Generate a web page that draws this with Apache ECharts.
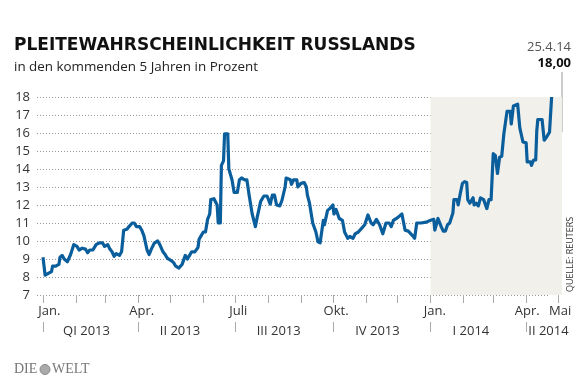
<!DOCTYPE html>
<html><head><meta charset="utf-8">
<script src="https://cdn.jsdelivr.net/npm/echarts@6/dist/echarts.min.js"></script>
<style>html,body{margin:0;padding:0;background:#fff}#c{width:580px;height:386px}</style>
</head><body><div id="c"></div>
<script>
var dates = ['2013-01-01','2013-01-03','2013-01-06','2013-01-09','2013-01-10','2013-01-13','2013-01-16','2013-01-17','2013-01-19','2013-01-21','2013-01-24','2013-01-27','2013-01-30','2013-02-02','2013-02-04','2013-02-07','2013-02-10','2013-02-12','2013-02-14','2013-02-17','2013-02-20','2013-02-23','2013-02-26','2013-02-28','2013-03-03','2013-03-05','2013-03-07','2013-03-09','2013-03-11','2013-03-14','2013-03-16','2013-03-18','2013-03-21','2013-03-23','2013-03-26','2013-03-28','2013-03-30','2013-04-02','2013-04-04','2013-04-06','2013-04-09','2013-04-11','2013-04-13','2013-04-16','2013-04-19','2013-04-21','2013-04-24','2013-04-26','2013-04-28','2013-05-02','2013-05-04','2013-05-06','2013-05-09','2013-05-12','2013-05-15','2013-05-17','2013-05-19','2013-05-21','2013-05-24','2013-05-27','2013-05-28','2013-05-30','2013-06-01','2013-06-03','2013-06-05','2013-06-07','2013-06-08','2013-06-11','2013-06-14','2013-06-15','2013-06-17','2013-06-18','2013-06-20','2013-06-21','2013-06-24','2013-06-25','2013-06-28','2013-06-30','2013-07-03','2013-07-05','2013-07-07','2013-07-10','2013-07-12','2013-07-14','2013-07-17','2013-07-20','2013-07-22','2013-07-25','2013-07-28','2013-07-31','2013-08-03','2013-08-05','2013-08-07','2013-08-09','2013-08-12','2013-08-14','2013-08-17','2013-08-18','2013-08-22','2013-08-23','2013-08-25','2013-08-28','2013-08-29','2013-09-01','2013-09-04','2013-09-06','2013-09-07','2013-09-09','2013-09-12','2013-09-15','2013-09-17','2013-09-19','2013-09-22','2013-09-23','2013-09-26','2013-09-28','2013-10-01','2013-10-02','2013-10-04','2013-10-07','2013-10-10','2013-10-12','2013-10-15','2013-10-17','2013-10-20','2013-10-22','2013-10-25','2013-10-28','2013-10-31','2013-11-03','2013-11-06','2013-11-08','2013-11-11','2013-11-14','2013-11-17','2013-11-20','2013-11-23','2013-11-25','2013-11-27','2013-12-01','2013-12-05','2013-12-08','2013-12-11','2013-12-15','2013-12-17','2013-12-19','2013-12-23','2013-12-28','2014-01-01','2014-01-04','2014-01-05','2014-01-08','2014-01-11','2014-01-13','2014-01-15','2014-01-17','2014-01-19','2014-01-22','2014-01-23','2014-01-26','2014-01-27','2014-01-29','2014-01-31','2014-02-02','2014-02-04','2014-02-05','2014-02-07','2014-02-10','2014-02-11','2014-02-13','2014-02-15','2014-02-17','2014-02-20','2014-02-21','2014-02-23','2014-02-25','2014-02-27','2014-03-01','2014-03-03','2014-03-05','2014-03-07','2014-03-09','2014-03-11','2014-03-14','2014-03-17','2014-03-18','2014-03-20','2014-03-24','2014-03-26','2014-03-29','2014-04-01','2014-04-02','2014-04-05','2014-04-06','2014-04-08','2014-04-10','2014-04-11','2014-04-12','2014-04-16','2014-04-18','2014-04-20','2014-04-23','2014-04-25'];
var values = [9.1,8.1,8.2,8.3,8.6,8.6,8.7,9.1,9.2,9.0,8.85,9.25,9.8,9.7,9.5,9.6,9.55,9.35,9.5,9.5,9.8,9.9,9.9,9.7,9.8,9.55,9.4,9.15,9.3,9.2,9.4,10.6,10.65,10.8,11.0,11.0,10.8,10.8,10.6,10.3,9.5,9.25,9.55,9.9,10.0,9.8,9.4,9.25,9.05,8.9,8.8,8.6,8.5,8.7,9.2,9.0,9.2,9.4,9.4,9.65,10.1,10.3,10.5,10.5,11.2,11.5,12.3,12.35,12.0,11.0,11.0,14.2,14.45,15.95,15.95,14.0,13.4,12.7,12.7,13.4,13.5,13.4,13.4,12.6,11.5,10.8,11.4,12.2,12.5,12.5,12.05,12.55,12.55,12.0,11.95,12.25,13.0,13.5,13.4,13.15,13.4,13.4,13.0,13.2,13.25,13.0,12.55,12.1,11.0,10.5,9.95,9.9,11.15,10.9,11.7,11.8,12.0,11.5,11.75,11.25,11.15,10.5,10.15,10.25,10.15,10.4,10.5,10.7,10.9,11.45,11.0,10.9,11.2,10.9,10.4,11.0,11.0,10.8,11.15,11.3,11.5,10.6,10.55,10.3,10.15,11.0,11.0,11.05,11.15,11.2,10.6,11.25,10.8,10.55,10.55,10.9,11.0,11.55,12.3,12.3,12.0,12.65,13.2,13.3,13.25,12.3,12.1,12.4,12.0,12.1,11.95,12.4,12.3,12.3,11.8,12.3,12.3,14.85,14.75,13.75,14.65,14.7,15.95,17.2,17.2,16.5,17.5,17.6,16.3,15.5,15.45,14.4,14.4,14.2,14.5,14.5,16.1,16.75,16.75,15.6,15.75,16.05,18.0];
var monthTickDates = ['2013-01-01','2013-02-01','2013-03-01','2013-04-01','2013-05-01','2013-06-01','2013-07-01','2013-08-01','2013-09-01','2013-10-01','2013-11-01','2013-12-01','2014-01-01','2014-02-01','2014-03-01','2014-04-01','2014-05-01'];
var monthLabelDates = ['2013-01-07','2013-04-04','2013-07-04','2013-10-04','2014-01-05','2014-04-02','2014-05-03'];
var monthLabelTexts = ['Jan.','Apr.','Juli','Okt.','Jan.','Apr.','Mai'];
var quarterTickDates = ['2013-01-01','2013-04-01','2013-07-01','2013-10-01','2014-01-01','2014-04-01'];
var quarterLabelDates = ['2013-02-11','2013-05-10','2013-08-11','2013-11-12','2014-02-08','2014-04-22'];
var quarterLabelTexts = ['QI 2013','II 2013','III 2013','IV 2013','I 2014','II 2014'];
var yTicks = [7,8,9,10,11,12,13,14,15,16,17,18];
var shadeStart = '2014-01-01';
var titleText = 'PLEITEWAHRSCHEINLICHKEIT RUSSLANDS';
var subtitleText = 'in den kommenden 5 Jahren in Prozent';
var lastDateText = '25.4.14';
var lastValueText = '18,00';

var DAY = 864e5;
function ts(s){ var p = s.split('-'); return Date.UTC(+p[0], +p[1]-1, +p[2]); }
var xMin = ts('2013-01-01') - 5.65 * DAY;
var xMax = ts('2014-05-01') + 3.77 * DAY;
var seriesData = dates.map(function(d,i){ return [ts(d), values[i]]; });
function lookup(v, ds, texts){
  for (var i=0;i<ds.length;i++){ if (Math.abs(ts(ds[i]) - v) < DAY/2) return texts[i]; }
  return '';
}
var FONT = 'Open Sans';
var chart = echarts.init(document.getElementById('c'), null, {renderer:'canvas'});
chart.setOption({
  animation: false,
  textStyle: {fontFamily: FONT},
  grid: [
    {left: 37, right: 32, top: 97, bottom: 91},
    {left: 37, right: 18, top: 97, bottom: 91}
  ],
  xAxis: [
    {gridIndex: 0, type: 'value', show: false, min: 0, max: 1},
    {gridIndex: 1, type: 'value', min: xMin, max: xMax, position: 'bottom',
      axisLine: {show: false},
      splitLine: {show: false},
      axisTick: {show: true, length: 8, lineStyle: {color: '#aaa'}, customValues: monthTickDates.map(ts)},
      axisLabel: {show: true, margin: 10, fontSize: 13, color: '#333', fontFamily: FONT,
        customValues: monthLabelDates.map(ts),
        formatter: function(v){ return lookup(v, monthLabelDates, monthLabelTexts); }}
    },
    {gridIndex: 1, type: 'value', min: xMin, max: xMax, position: 'bottom', offset: 27,
      axisLine: {show: false},
      splitLine: {show: false},
      axisTick: {show: true, length: 10, lineStyle: {color: '#aaa'}, customValues: quarterTickDates.map(ts)},
      axisLabel: {show: true, margin: 3, fontSize: 13, color: '#333', fontFamily: FONT,
        customValues: quarterLabelDates.map(ts),
        formatter: function(v){ return lookup(v, quarterLabelDates, quarterLabelTexts); }}
    }
  ],
  yAxis: [
    {gridIndex: 0, type: 'value', min: yTicks[0], max: yTicks[yTicks.length-1], interval: 1,
      axisLine: {show: false}, axisTick: {show: false},
      axisLabel: {margin: 7, fontSize: 13, color: '#333', fontFamily: FONT},
      splitLine: {show: true, lineStyle: {color: '#999', type: [1,2], width: 1}}
    },
    {gridIndex: 1, type: 'value', min: yTicks[0], max: yTicks[yTicks.length-1], interval: 1, show: false,
      splitLine: {show: false}}
  ],
  series: [
    {type: 'line', xAxisIndex: 1, yAxisIndex: 1, z: -1, silent: true, showSymbol: false,
      data: seriesData, lineStyle: {opacity: 0},
      markArea: {silent: true, itemStyle: {color: '#f2f0eb'},
        data: [[{xAxis: ts(shadeStart), yAxis: yTicks[yTicks.length-1]}, {xAxis: xMax, yAxis: yTicks[0]}]]}
    },
    {type: 'line', xAxisIndex: 1, yAxisIndex: 1, z: 3, showSymbol: false, symbol: 'none',
      data: seriesData, lineStyle: {color: '#0b5e9c', width: 3.2, join: 'round'}}
  ],
  graphic: [
    {type: 'text', x: 14, y: 46, style: {text: titleText, fontFamily: 'DejaVu Sans', fontSize: 17, fontWeight: 'bold', fill: '#111', textVerticalAlign: 'middle'}},
    {type: 'text', x: 14, y: 67, style: {text: subtitleText, fontFamily: FONT, fontSize: 13.4, fill: '#222', textVerticalAlign: 'middle'}},
    {type: 'text', x: 571, y: 47, style: {text: lastDateText, fontFamily: FONT, fontSize: 13, fill: '#555', textAlign: 'right', textVerticalAlign: 'middle'}},
    {type: 'text', x: 571, y: 63, style: {text: lastValueText, fontFamily: FONT, fontSize: 13, fontWeight: 'bold', fill: '#111', textAlign: 'right', textVerticalAlign: 'middle'}},
    {type: 'polyline', shape: {points: [[562, 72], [562, 132], [549, 132]]}, style: {stroke: '#999', lineWidth: 1, fill: null}},
    {type: 'text', x: 575, y: 292, rotation: Math.PI/2, style: {text: 'QUELLE: REUTERS', fontFamily: FONT, fontSize: 9, fill: '#333', textAlign: 'left', textVerticalAlign: 'bottom'}},
    {type: 'text', left: 14, top: 362, style: {text: 'DIE', fontFamily: 'Liberation Serif', fontSize: 14, fill: '#777'}},
    {type: 'circle', shape: {cx: 45, cy: 369.5, r: 5}, style: {fill: '#aaa', stroke: '#888', lineWidth: 1}},
    {type: 'text', left: 52, top: 362, style: {text: 'WELT', fontFamily: 'Liberation Serif', fontSize: 14, fill: '#777'}}
  ]
});
</script></body></html>
